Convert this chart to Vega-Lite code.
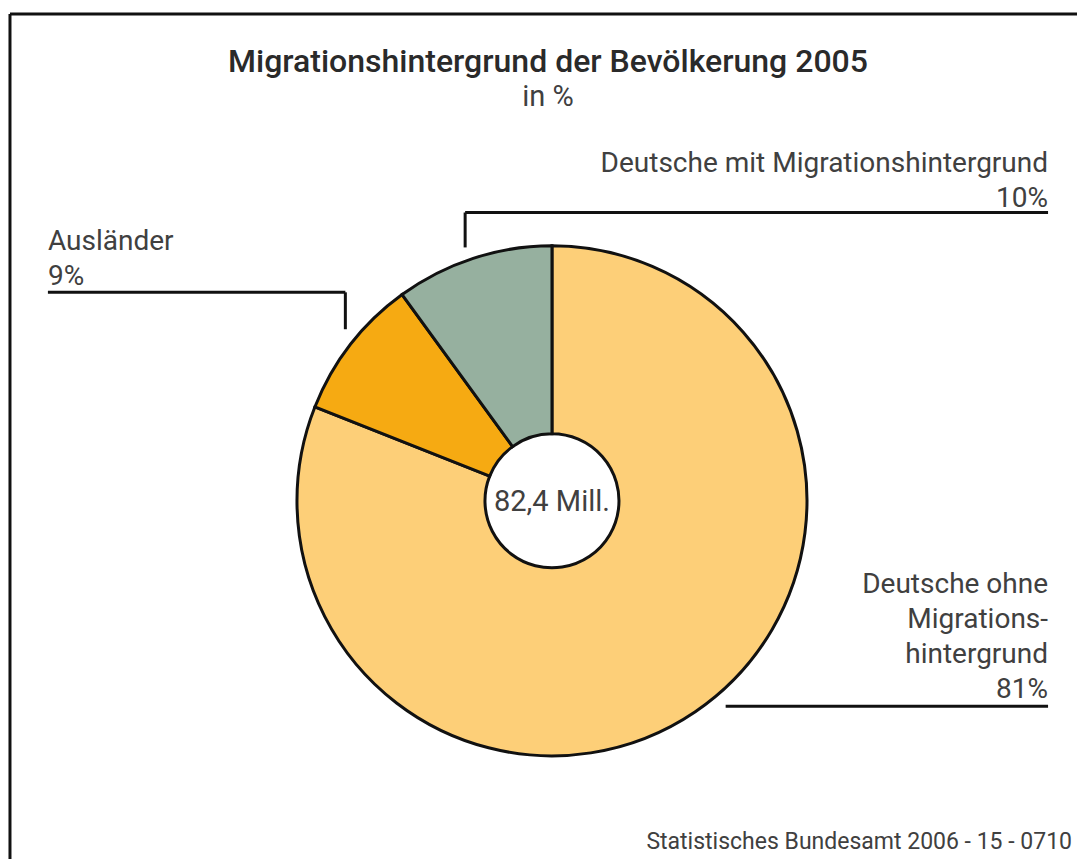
{
  "$schema": "https://vega.github.io/schema/vega-lite/v6.json",
  "width": 1079,
  "height": 861,
  "autosize": {"type": "fit", "contains": "padding"},
  "padding": 0,
  "background": "#ffffff",
  "config": {"view": {"stroke": null}, "font": "Roboto"},
  "layer": [
    {
      "data": {"values": [
        {"cat": "Deutsche ohne Migrationshintergrund", "value": 81, "ord": 1},
        {"cat": "Ausländer", "value": 9, "ord": 2},
        {"cat": "Deutsche mit Migrationshintergrund", "value": 10, "ord": 3}
      ]},
      "mark": {"type": "arc", "outerRadius": 255, "innerRadius": 67, "stroke": "#111111", "strokeWidth": 3},
      "encoding": {
        "theta": {"field": "value", "type": "quantitative", "stack": true},
        "order": {"field": "ord", "type": "quantitative"},
        "color": {"field": "cat", "type": "nominal", "legend": null,
          "scale": {"domain": ["Deutsche ohne Migrationshintergrund", "Ausländer", "Deutsche mit Migrationshintergrund"],
                    "range": ["#FDCF78", "#F6AA12", "#96B09F"]}},
        "x": {"datum": 553, "type": "quantitative", "scale": {"domain": [0, 1079], "nice": false, "zero": false}, "axis": null},
        "y": {"datum": 502, "type": "quantitative", "scale": {"domain": [0, 861], "nice": false, "zero": false, "reverse": true}, "axis": null}
      }
    },
    {
      "data": {"values": [
        {"x1": 10, "y1": 14, "x2": 10, "y2": 861},
        {"x1": 10, "y1": 14, "x2": 1079, "y2": 14},
        {"x1": 466, "y1": 248, "x2": 466, "y2": 213},
        {"x1": 466, "y1": 213, "x2": 1050, "y2": 213},
        {"x1": 48, "y1": 293, "x2": 346, "y2": 293},
        {"x1": 346, "y1": 293, "x2": 346, "y2": 330},
        {"x1": 727, "y1": 708, "x2": 1050, "y2": 708}
      ]},
      "mark": {"type": "rule", "stroke": "#111111", "strokeWidth": 3},
      "encoding": {
        "x": {"field": "x1", "type": "quantitative"},
        "y": {"field": "y1", "type": "quantitative"},
        "x2": {"field": "x2"},
        "y2": {"field": "y2"}
      }
    },
    {
      "data": {"values": [
        {"t": "Migrationshintergrund der Bevölkerung 2005", "x": 549, "y": 72}
      ]},
      "mark": {"type": "text", "align": "center", "baseline": "alphabetic", "fontSize": 32, "fontWeight": 500, "color": "#2a2a2a"},
      "encoding": {"x": {"field": "x", "type": "quantitative"}, "y": {"field": "y", "type": "quantitative"}, "text": {"field": "t"}}
    },
    {
      "data": {"values": [
        {"t": "in %", "x": 549, "y": 106},
        {"t": "82,4 Mill.", "x": 553, "y": 512}
      ]},
      "mark": {"type": "text", "align": "center", "baseline": "alphabetic", "fontSize": 29, "fontWeight": 400, "color": "#404040"},
      "encoding": {"x": {"field": "x", "type": "quantitative"}, "y": {"field": "y", "type": "quantitative"}, "text": {"field": "t"}}
    },
    {
      "data": {"values": [
        {"t": "Deutsche mit Migrationshintergrund\n10%", "x": 1050, "y": 172},
        {"t": "Deutsche ohne\nMigrations-\nhintergrund\n81%", "x": 1050, "y": 594}
      ]},
      "mark": {"type": "text", "align": "right", "baseline": "alphabetic", "fontSize": 28, "fontWeight": 400, "lineBreak": "\n", "lineHeight": 35, "color": "#404040"},
      "encoding": {"x": {"field": "x", "type": "quantitative"}, "y": {"field": "y", "type": "quantitative"}, "text": {"field": "t"}}
    },
    {
      "data": {"values": [
        {"t": "Ausländer\n9%", "x": 48, "y": 251}
      ]},
      "mark": {"type": "text", "align": "left", "baseline": "alphabetic", "fontSize": 28, "fontWeight": 400, "lineBreak": "\n", "lineHeight": 35, "color": "#404040"},
      "encoding": {"x": {"field": "x", "type": "quantitative"}, "y": {"field": "y", "type": "quantitative"}, "text": {"field": "t"}}
    },
    {
      "data": {"values": [
        {"t": "Statistisches Bundesamt 2006 - 15 - 0710", "x": 1074, "y": 851}
      ]},
      "mark": {"type": "text", "align": "right", "baseline": "alphabetic", "fontSize": 23, "fontWeight": 400, "color": "#404040"},
      "encoding": {"x": {"field": "x", "type": "quantitative"}, "y": {"field": "y", "type": "quantitative"}, "text": {"field": "t"}}
    }
  ]
}
